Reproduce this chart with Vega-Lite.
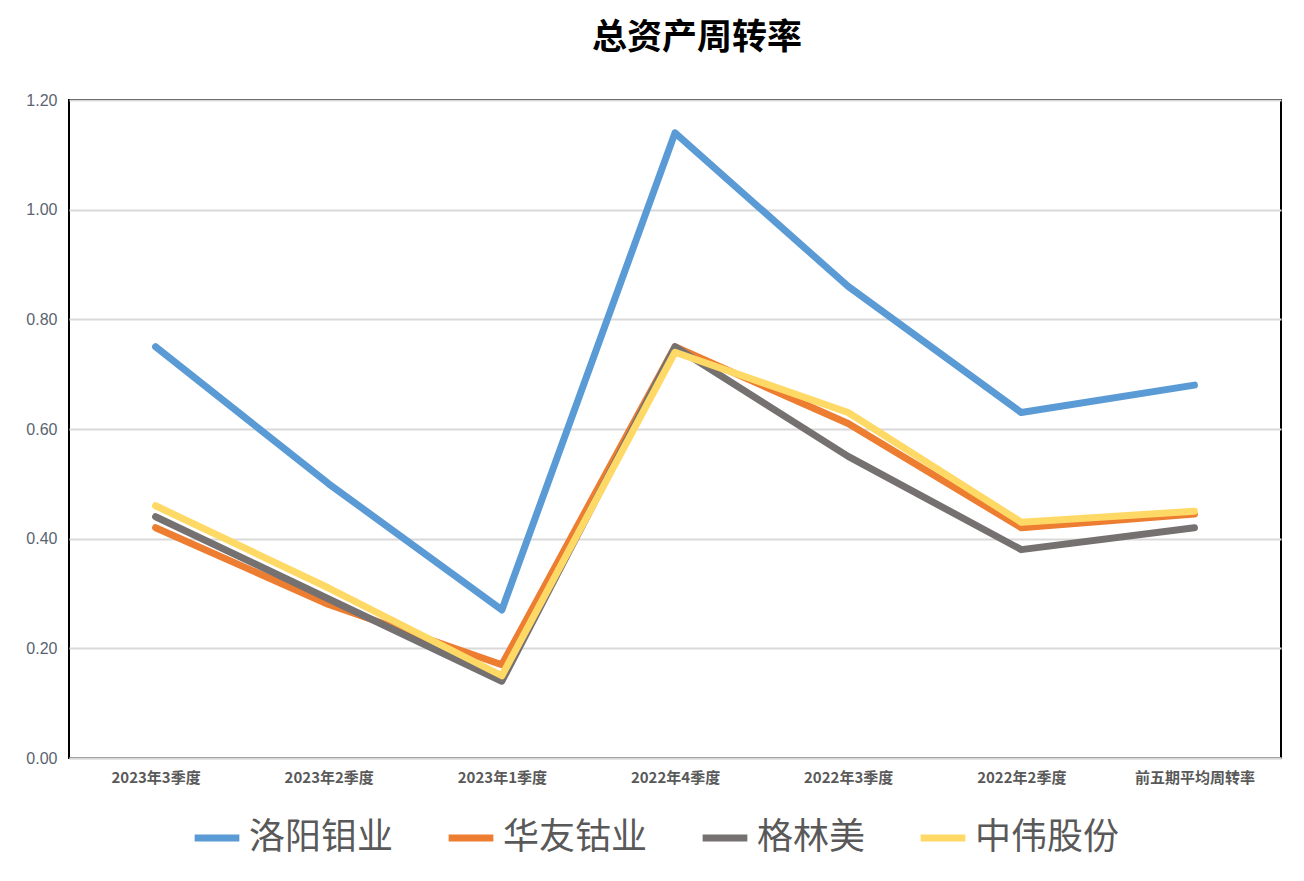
{
  "$schema": "https://vega.github.io/schema/vega-lite/v6.json",
  "autosize": {"type": "none"},
  "padding": {"left": 69, "top": 100, "right": 23, "bottom": 123},
  "width": 1212,
  "height": 658,
  "background": "white",
  "title": {
    "text": "总资产周转率",
    "font": "Noto Sans CJK SC",
    "fontSize": 35,
    "fontWeight": "bold",
    "color": "#000000",
    "anchor": "middle",
    "dx": 22,
    "offset": 36
  },
  "config": {
    "view": {"stroke": "#000000", "strokeWidth": 2},
    "font": "Noto Sans CJK SC"
  },
  "data": {
    "values": [
      {"period": "2023年3季度", "company": "洛阳钼业", "value": 0.75},
      {"period": "2023年2季度", "company": "洛阳钼业", "value": 0.50},
      {"period": "2023年1季度", "company": "洛阳钼业", "value": 0.27},
      {"period": "2022年4季度", "company": "洛阳钼业", "value": 1.14},
      {"period": "2022年3季度", "company": "洛阳钼业", "value": 0.86},
      {"period": "2022年2季度", "company": "洛阳钼业", "value": 0.63},
      {"period": "前五期平均周转率", "company": "洛阳钼业", "value": 0.68},
      {"period": "2023年3季度", "company": "华友钴业", "value": 0.42},
      {"period": "2023年2季度", "company": "华友钴业", "value": 0.28},
      {"period": "2023年1季度", "company": "华友钴业", "value": 0.17},
      {"period": "2022年4季度", "company": "华友钴业", "value": 0.75},
      {"period": "2022年3季度", "company": "华友钴业", "value": 0.61},
      {"period": "2022年2季度", "company": "华友钴业", "value": 0.42},
      {"period": "前五期平均周转率", "company": "华友钴业", "value": 0.445},
      {"period": "2023年3季度", "company": "格林美", "value": 0.44},
      {"period": "2023年2季度", "company": "格林美", "value": 0.29},
      {"period": "2023年1季度", "company": "格林美", "value": 0.14},
      {"period": "2022年4季度", "company": "格林美", "value": 0.75},
      {"period": "2022年3季度", "company": "格林美", "value": 0.55},
      {"period": "2022年2季度", "company": "格林美", "value": 0.38},
      {"period": "前五期平均周转率", "company": "格林美", "value": 0.42},
      {"period": "2023年3季度", "company": "中伟股份", "value": 0.46},
      {"period": "2023年2季度", "company": "中伟股份", "value": 0.31},
      {"period": "2023年1季度", "company": "中伟股份", "value": 0.15},
      {"period": "2022年4季度", "company": "中伟股份", "value": 0.74},
      {"period": "2022年3季度", "company": "中伟股份", "value": 0.63},
      {"period": "2022年2季度", "company": "中伟股份", "value": 0.43},
      {"period": "前五期平均周转率", "company": "中伟股份", "value": 0.45}
    ]
  },
  "mark": {"type": "line", "strokeWidth": 7, "strokeCap": "round", "strokeJoin": "round"},
  "encoding": {
    "x": {
      "field": "period",
      "type": "nominal",
      "sort": ["2023年3季度", "2023年2季度", "2023年1季度", "2022年4季度", "2022年3季度", "2022年2季度", "前五期平均周转率"],
      "scale": {"type": "point", "padding": 0.5},
      "axis": {
        "title": null,
        "labelAngle": 0,
        "labelFontSize": 15,
        "labelFontWeight": "bold",
        "labelColor": "#595959",
        "labelPadding": 12,
        "ticks": false,
        "domainColor": "#d9d9d9",
        "domainWidth": 2,
        "grid": false
      }
    },
    "y": {
      "field": "value",
      "type": "quantitative",
      "scale": {"domain": [0, 1.2], "nice": false},
      "axis": {
        "title": null,
        "values": [0, 0.2, 0.4, 0.6, 0.8, 1.0, 1.2],
        "format": ".2f",
        "labelFontSize": 16,
        "labelColor": "#5a6470",
        "labelFont": "Liberation Sans",
        "labelPadding": 12,
        "ticks": false,
        "domain": false,
        "gridColor": "#d9d9d9",
        "gridWidth": 2
      }
    },
    "color": {
      "field": "company",
      "type": "nominal",
      "sort": ["洛阳钼业", "华友钴业", "格林美", "中伟股份"],
      "scale": {
        "domain": ["洛阳钼业", "华友钴业", "格林美", "中伟股份"],
        "range": ["#5B9BD5", "#ED7D31", "#767171", "#FFD966"]
      },
      "legend": {
        "title": null,
        "orient": "none",
        "direction": "horizontal",
        "legendX": 122,
        "legendY": 712,
        "symbolType": "stroke",
        "symbolSize": 2000,
        "symbolStrokeWidth": 7,
        "labelFontSize": 36,
        "labelColor": "#595959",
        "labelOffset": 6,
        "columnPadding": 40,
        "labelLimit": 400
      }
    },
    "order": {"field": "company"}
  }
}
